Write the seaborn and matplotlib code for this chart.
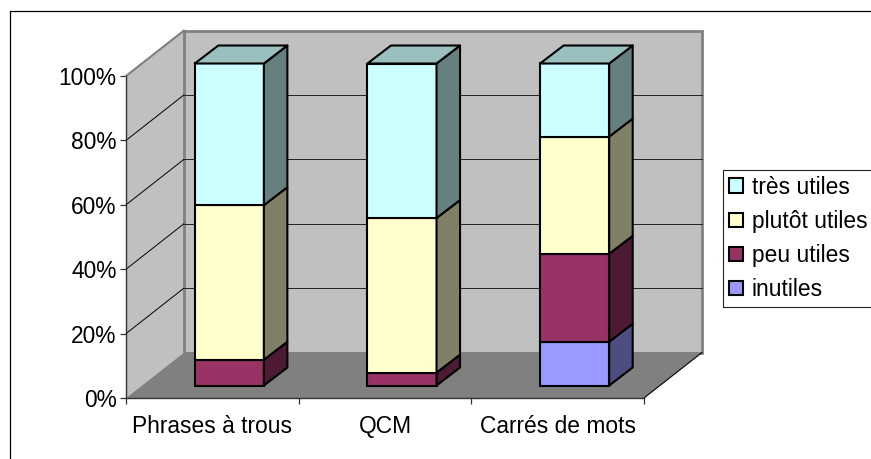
import matplotlib
matplotlib.use("Agg")
import matplotlib.pyplot as plt
import pandas as pd
import seaborn as sns
from matplotlib.lines import Line2D
from matplotlib.patches import Patch, Polygon
from matplotlib.transforms import Affine2D

exercices = ["Phrases à trous", "QCM", "Carrés de mots"]
inutiles = [0, 0, 13.6]
peu_utiles = [8, 4, 27.3]
plutot_utiles = [48, 48, 36.4]
tres_utiles = [44, 48, 22.7]
y_ticks = [0, 20, 40, 60, 80, 100]
y_labels = ["0%", "20%", "40%", "60%", "80%", "100%"]

series_names = ["inutiles", "peu utiles", "plutôt utiles", "très utiles"]
series_values = [inutiles, peu_utiles, plutot_utiles, tres_utiles]
colors = ["#9999FF", "#993366", "#FFFFCC", "#CCFFFF"]

sns.set_theme(style="white", rc={"axes.facecolor": "none"})
plt.rcParams["font.family"] = ["Liberation Sans", "DejaVu Sans"]
FS = 16.4
EDGE = 1.5

W, H = 871, 459
fig = plt.figure(figsize=(W / 100, H / 100), dpi=100)
# the axes is the front plane of the 3D box, in pixels
ax = fig.add_axes([126 / W, 1 - 398 / H, (644 - 126) / W, (398 - 76) / H])


def px(dx, dy):
    # shift in screen pixels (figure is 100 dpi)
    return ax.transData + Affine2D().translate(dx, dy)


def shade(col, f):
    r, g, b = matplotlib.colors.to_rgb(col)
    return (r * f, g * f, b * f)


df = pd.DataFrame({"exercice": exercices})
for name, vals in zip(series_names, series_values):
    df[name] = vals

bottom = [0, 0, 0]
for name, col in zip(series_names, colors):
    sns.barplot(data=df, x="exercice", y=name, color=col, saturation=1, width=0.4,
                bottom=bottom, edgecolor="black", linewidth=EDGE, ax=ax, zorder=5)
    bottom = [b + v for b, v in zip(bottom, df[name])]

ax.set_xlim(-0.5, 2.5)
ax.set_ylim(0, 100)
ax.set_xlabel("")
ax.set_ylabel("")

# box: walls, floor and gridlines behind the bars
WALL = (58, 45.5)
back = px(*WALL)
x0, x1 = -0.5, 2.5
dx_data = WALL[0] * 3 / (644 - 126)
dy_data = WALL[1] * 100 / (398 - 76)

ax.add_patch(Polygon([(x0, 0), (x0, 100), (x0 + dx_data, 100 + dy_data), (x0 + dx_data, dy_data)],
                     fc="#C0C0C0", ec="none", zorder=1, clip_on=False))
ax.add_patch(Polygon([(x0, 0), (x1, 0), (x1, 100), (x0, 100)], transform=back,
                     fc="#C0C0C0", ec="#808080", lw=2, zorder=1, clip_on=False))
ax.add_patch(Polygon([(x0, 0), (x1, 0), (x1 + dx_data, dy_data), (x0 + dx_data, dy_data)],
                     fc="#808080", ec="none", zorder=2, clip_on=False))
ax.plot([x0, x0 + dx_data], [100, 100 + dy_data], color="#808080", lw=1.5, zorder=2, clip_on=False)
ax.plot([x1, x1 + dx_data], [0, dy_data], color="black", lw=0.8, zorder=2, clip_on=False)
for t in y_ticks[1:-1]:
    ax.plot([x0, x0 + dx_data], [t, t + dy_data], color="black", lw=0.7, zorder=2, clip_on=False)
    ax.plot([x0, x1], [t, t], transform=back, color="#222222", lw=0.7, zorder=2, clip_on=False)

# bars sit a little inside the box, then get their side and top faces
SHIFT = (17, 12.5)
DEPTH = (23.5, 18)
bar_tf = px(*SHIFT)
ddx = DEPTH[0] * 3 / (644 - 126)
ddy = DEPTH[1] * 100 / (398 - 76)
n_cat = len(exercices)
for j, cont in enumerate(ax.containers):
    for i, bar in enumerate(cont):
        bar.set_transform(bar_tf)
        bar.set_clip_on(False)
        xl, xr = bar.get_x(), bar.get_x() + bar.get_width()
        yb, yt = bar.get_y(), bar.get_y() + bar.get_height()
        if bar.get_height() == 0:
            bar.set_visible(False)
            continue
        ax.add_patch(Polygon([(xr, yb), (xr + ddx, yb + ddy), (xr + ddx, yt + ddy), (xr, yt)],
                             transform=bar_tf, fc=shade(colors[j], 0.5), ec="black", lw=EDGE,
                             joinstyle="round", zorder=5, clip_on=False))
        if j == len(ax.containers) - 1:
            ax.add_patch(Polygon([(xl, yt), (xr, yt), (xr + ddx, yt + ddy), (xl + ddx, yt + ddy)],
                                 transform=bar_tf, fc=shade(colors[j], 0.75), ec="black", lw=EDGE,
                                 joinstyle="round", zorder=5, clip_on=False))

# axes lines and ticks
sns.despine(ax=ax)
for side in ["left", "bottom"]:
    ax.spines[side].set_color("#333333")
    ax.spines[side].set_linewidth(1.0)
    ax.spines[side].set_zorder(4)
ax.set_yticks(y_ticks)
ax.set_yticklabels(y_labels, fontsize=FS, color="black")
ax.tick_params(axis="y", left=True, length=4.3, width=0.9, pad=2.5, color="#333333")
ax.set_xticks(range(n_cat))
ax.set_xticklabels(exercices, fontsize=FS, color="black")
ax.set_xticks([-0.5, 0.5, 1.5, 2.5], minor=True)
ax.tick_params(axis="x", which="major", bottom=False, length=0, pad=12.5)
ax.tick_params(axis="x", which="minor", bottom=True, length=4.3, width=0.9, color="#333333")

# legend, most useful first, runs off the right edge like the frame
handles = [Patch(facecolor=c, edgecolor="black", linewidth=EDGE, label=n)
           for n, c in zip(series_names[::-1], colors[::-1])]
leg = ax.legend(handles=handles, loc="upper left", bbox_to_anchor=(722.7 / W, 1 - 169.5 / H),
                bbox_transform=fig.transFigure, fontsize=FS, frameon=True, fancybox=False,
                edgecolor="#222222", framealpha=1, borderaxespad=0, borderpad=0.27,
                handlelength=0.6, handleheight=0.6, handletextpad=0.4, labelspacing=0.49,
                labelcolor="black")
leg.get_frame().set_linewidth(0.8)
leg.set_zorder(6)

# chart area frame: only top and left show in the picture
fig.add_artist(Line2D([9.5 / W, 9.5 / W, 1], [0, 1 - 11 / H, 1 - 11 / H],
                      transform=fig.transFigure, color="black", lw=0.9))

fig.savefig("out.png", dpi=100)
